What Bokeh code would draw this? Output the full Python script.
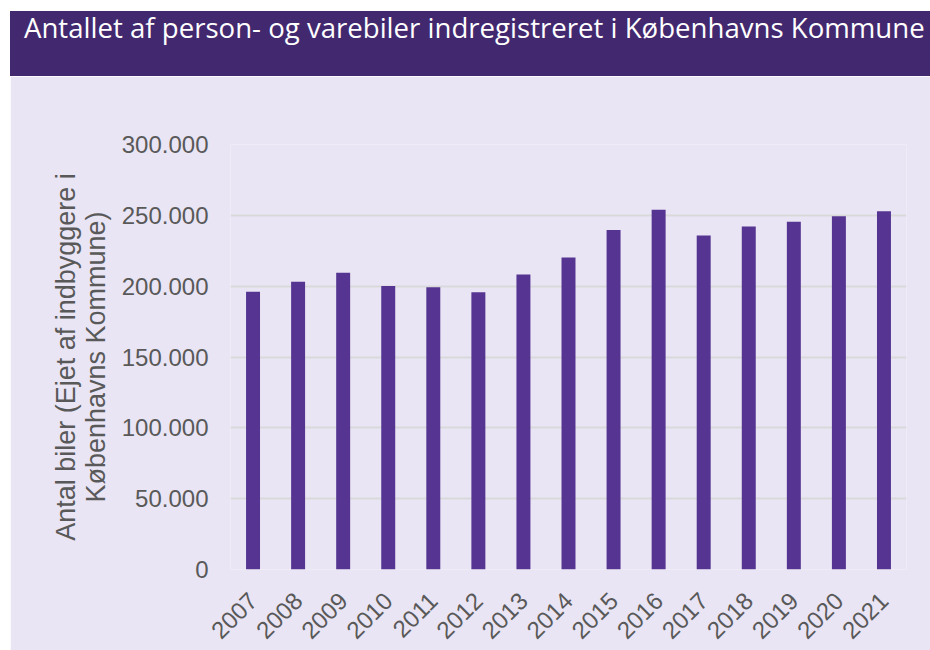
from math import pi
from bokeh.plotting import figure
from bokeh.models import Div, FixedTicker, CustomJSTickFormatter, Range1d, ColumnDataSource
from bokeh.layouts import column
from bokeh.embed import file_html
from bokeh.resources import INLINE

# ---- data ----
years = ["2007", "2008", "2009", "2010", "2011", "2012", "2013", "2014",
         "2015", "2016", "2017", "2018", "2019", "2020", "2021"]
cars = [196000, 203200, 209500, 200100, 199200, 195700, 208300, 220300,
        239600, 254000, 235700, 242200, 245500, 249300, 252800]
y_ticks = [0, 50000, 100000, 150000, 200000, 250000, 300000]
title_text = "Antallet af person- og varebiler indregistreret i Københavns Kommune"
y_label = "Antal biler (Ejet af indbyggere i\nKøbenhavns Kommune)"

BANNER = "#42286E"
PANEL = "#E9E5F4"
BAR = "#563592"
GRID = "#D9D9D9"
TXT = "#595959"

banner = Div(
    text=('<div style="color:#FFFFFF;font-family:\'Open Sans\';font-size:27.6px;'
          'line-height:27px;padding:3px 0 0 14px;white-space:nowrap;">'
          + title_text + '</div>'),
    width=920, height=65, margin=(11, 0, 0, 10),
    styles={"background-color": BANNER},
)

src = ColumnDataSource(dict(year=years, cars=cars))

p = figure(
    x_range=years, y_range=Range1d(0, 300000),
    width=920, height=574, margin=(0, 0, 0, 10),
    output_backend="svg", toolbar_location=None,
    min_border_left=220, min_border_right=24,
    min_border_top=68, min_border_bottom=81,
)
p.x_range.range_padding = 0
p.background_fill_color = PANEL
p.border_fill_color = PANEL
p.outline_line_color = None

p.vbar(x="year", top="cars", width=0.31, source=src,
       fill_color=BAR, line_color=None)

# y axis
p.yaxis.ticker = FixedTicker(ticks=y_ticks)
p.yaxis.formatter = CustomJSTickFormatter(code="""
    return Math.round(tick).toString().replace(/\\B(?=(\\d{3})+(?!\\d))/g, ".");
""")
p.yaxis.axis_line_color = None
p.yaxis.major_tick_line_color = None
p.yaxis.minor_tick_line_color = None
p.yaxis.major_tick_out = 0
p.yaxis.major_tick_in = 0
p.yaxis.major_label_standoff = 22
p.yaxis.major_label_text_font = "Liberation Sans"
p.yaxis.major_label_text_font_size = "24px"
p.yaxis.major_label_text_color = TXT
p.yaxis.axis_label = y_label
p.yaxis.axis_label_text_font = "Liberation Sans"
p.yaxis.axis_label_text_font_size = "27px"
p.yaxis.axis_label_text_font_style = "normal"
p.yaxis.axis_label_text_color = TXT
p.yaxis.axis_label_text_line_height = 1.0
p.yaxis.axis_label_standoff = 8

# x axis
p.xaxis.axis_line_color = None
p.xaxis.major_tick_line_color = None
p.xaxis.minor_tick_line_color = None
p.xaxis.major_tick_out = 0
p.xaxis.major_tick_in = 0
p.xaxis.major_label_orientation = pi / 4
p.xaxis.major_label_standoff = 27
p.xaxis.major_label_text_font = "Liberation Sans"
p.xaxis.major_label_text_font_size = "24px"
p.xaxis.major_label_text_color = TXT

# grid
p.xgrid.grid_line_color = None
p.ygrid.ticker = FixedTicker(ticks=y_ticks)
p.ygrid.grid_line_color = GRID
p.ygrid.grid_line_width = 2

layout = column(banner, p, spacing=0)

open("out.html", "w").write(file_html(layout, INLINE))
